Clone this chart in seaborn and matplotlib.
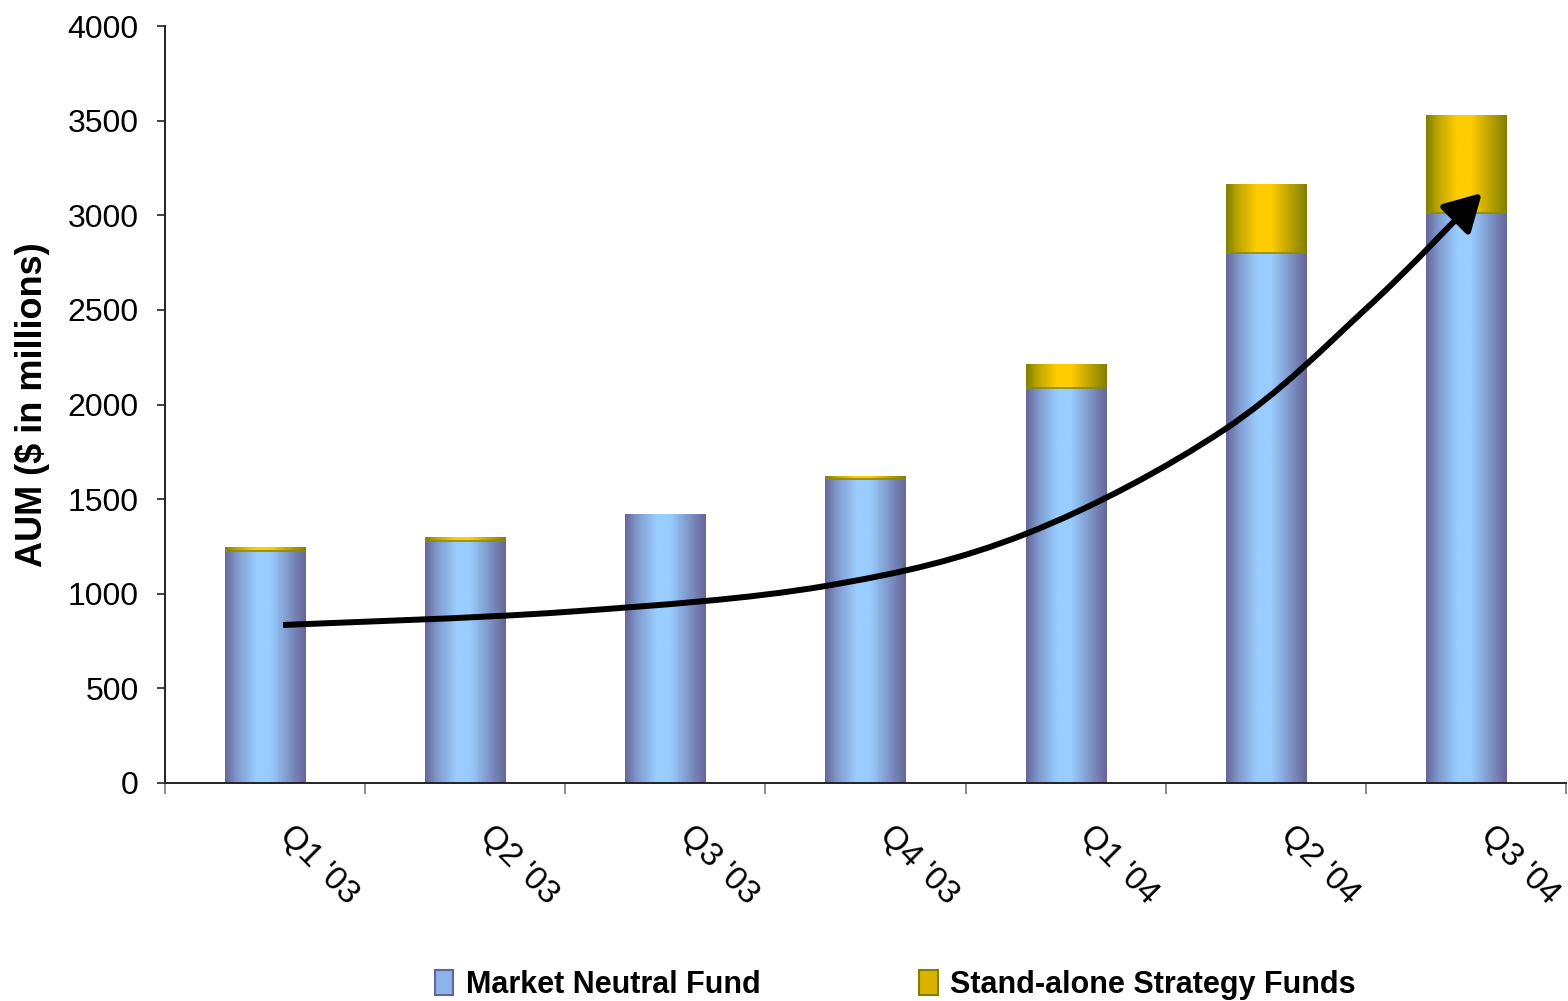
import numpy as np
import pandas as pd
import matplotlib
matplotlib.use("Agg")
import matplotlib.pyplot as plt
import seaborn as sns
from matplotlib.patches import Patch, FancyArrowPatch
from matplotlib.path import Path
from matplotlib.transforms import ScaledTranslation

# ---- data ----
quarters = ["Q1 '03", "Q2 '03", "Q3 '03", "Q4 '03", "Q1 '04", "Q2 '04", "Q3 '04"]
market_neutral = [1226, 1279, 1421, 1605, 2089, 2802, 3013]
stand_alone = [21, 21, 0, 17, 125, 363, 517]
series_names = ["Market Neutral Fund", "Stand-alone Strategy Funds"]
y_ticks = list(range(0, 4001, 500))
y_label = "AUM ($ in millions)"
# trend arrow drawn over the bars (category index, value)
arrow_x = [0.09, 1.505, 2.8, 3.8, 4.79, 5.51, 6.08]
arrow_y = [835, 904, 1041, 1316, 1865, 2515, 3118]

totals = [a + b for a, b in zip(market_neutral, stand_alone)]
df_total = pd.DataFrame({"quarter": quarters, "value": totals})
df_mnf = pd.DataFrame({"quarter": quarters, "value": market_neutral})

sns.set_style("white", {"text.color": "black", "axes.labelcolor": "black",
                        "xtick.color": "black", "ytick.color": "black"})
plt.rcParams["font.family"] = ["Liberation Sans", "DejaVu Sans"]

BLUE_DARK = np.array([102, 102, 153]) / 255
BLUE_LIGHT = np.array([153, 204, 255]) / 255
GOLD_DARK = np.array([128, 128, 0]) / 255
GOLD_LIGHT = np.array([255, 204, 0]) / 255

fig = plt.figure(figsize=(15.68, 10.01), dpi=100)
ax = fig.add_axes([165 / 1568, 1 - 783 / 1001, 1401 / 1568, 757 / 1001])

sns.barplot(data=df_total, x="quarter", y="value", color=tuple(GOLD_LIGHT),
            saturation=1, width=0.4, ax=ax, linewidth=0)
sns.barplot(data=df_mnf, x="quarter", y="value", color=tuple(BLUE_LIGHT),
            saturation=1, width=0.4, ax=ax, linewidth=0)

t = np.linspace(0, 1, 256)
f = np.interp(t, [0, 0.15, 0.38, 0.56, 0.8, 1.0], [0, 0.5, 1, 1, 0.45, 0])


def gradient(dark, light):
    cols = dark[None, :] + (light - dark)[None, :] * f[:, None]
    return cols[None, :, :]


n = len(quarters)
patches = list(ax.patches)
for i, p in enumerate(patches):
    x0, y0 = p.get_x(), p.get_y()
    w, h = p.get_width(), p.get_height()
    if h <= 0:
        continue
    if i < n:
        img = gradient(GOLD_DARK, GOLD_LIGHT)
        z = 2.1
    else:
        img = gradient(BLUE_DARK, BLUE_LIGHT)
        z = 2.2
    p.set_zorder(z)
    im = ax.imshow(img, extent=[x0, x0 + w, y0, y0 + h], aspect="auto",
                   zorder=z + 0.05, interpolation="bilinear")
    im.set_clip_path(p)
    if i >= n and stand_alone[i - n] > 0:
        ax.plot([x0, x0 + w], [y0 + h, y0 + h], color="#8a8a10", lw=1.2,
                zorder=z + 0.1, solid_capstyle="butt")

ax.set_xlim(-0.5, n - 0.5)
ax.set_ylim(0, 4000)
ax.set_yticks(y_ticks)
ax.set_yticklabels([str(v) for v in y_ticks], fontsize=23, color="black")
ax.set_xlabel("")
ax.set_ylabel(y_label, fontsize=26, fontweight="bold", color="black")
ax.yaxis.set_label_coords(-0.082, 0.5)

for s in ["top", "right"]:
    ax.spines[s].set_visible(False)
for s in ["left", "bottom"]:
    ax.spines[s].set_color("#222222")
    ax.spines[s].set_linewidth(1.4)

ax.tick_params(axis="y", direction="out", length=6, width=1.2, color="#222222",
               pad=13, left=True)
ax.set_xticks(range(n))
ax.set_xticks(np.arange(-0.5, n, 1.0), minor=True)
ax.tick_params(axis="x", which="major", length=0, pad=0, bottom=True)
ax.tick_params(axis="x", which="minor", direction="out", length=8, width=1.2,
               color="#777777", bottom=True)
ax.set_xticklabels(quarters, fontsize=24, color="black")
offset = ScaledTranslation(0.30, -0.37, fig.dpi_scale_trans)
for lab in ax.get_xticklabels():
    lab.set_rotation(-45)
    lab.set_ha("left")
    lab.set_va("top")
    lab.set_rotation_mode("anchor")
    lab.set_transform(lab.get_transform() + offset)

# trend arrow: smooth cubic path through the read points (Catmull-Rom)
P = np.column_stack([arrow_x, arrow_y]).astype(float)
verts = [tuple(P[0])]
codes = [Path.MOVETO]
for k in range(len(P) - 1):
    pm = P[k - 1] if k > 0 else P[k]
    pp = P[k + 2] if k + 2 < len(P) else P[k + 1]
    c1 = P[k] + (P[k + 1] - pm) / 6.0
    c2 = P[k + 1] - (pp - P[k]) / 6.0
    verts += [tuple(c1), tuple(c2), tuple(P[k + 1])]
    codes += [Path.CURVE4] * 3
arrow = FancyArrowPatch(path=Path(verts, codes),
                        arrowstyle="-|>,head_length=1.6,head_width=0.9",
                        mutation_scale=14, linewidth=4.3, color="black",
                        joinstyle="round", capstyle="butt", zorder=5)
ax.add_patch(arrow)

handles = [
    Patch(facecolor=(0.55, 0.7, 0.92), edgecolor=tuple(BLUE_DARK), linewidth=1.5),
    Patch(facecolor=(0.85, 0.7, 0.0), edgecolor=tuple(GOLD_DARK), linewidth=1.5),
]
leg = fig.legend(handles, series_names, loc="center", bbox_to_anchor=(0.571, 0.016),
                 ncol=2, frameon=False, prop={"size": 22, "weight": "bold"},
                 handlelength=0.6, handleheight=0.9, handletextpad=0.4,
                 columnspacing=5.2, borderpad=0)
for txt in leg.get_texts():
    txt.set_color("black")

fig.savefig("out.png", dpi=100)
